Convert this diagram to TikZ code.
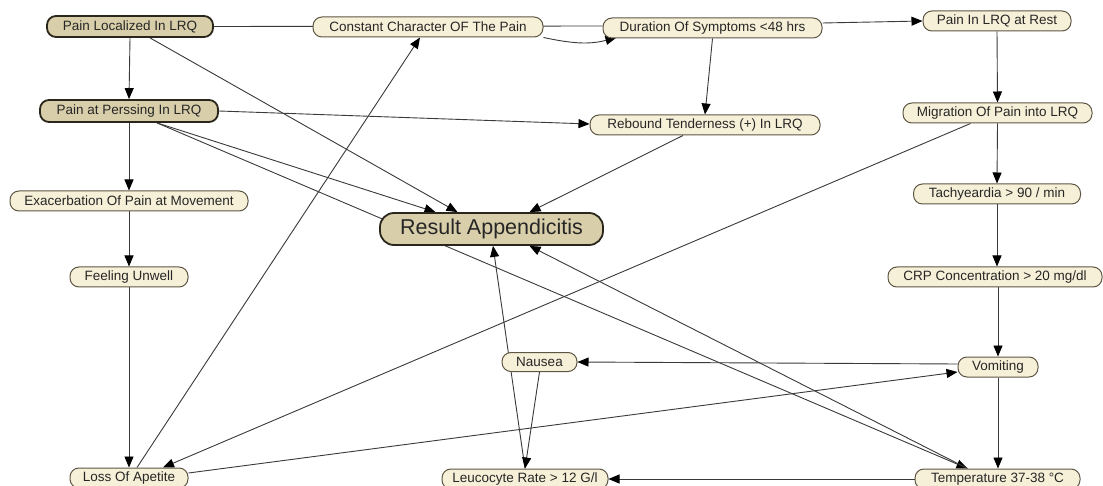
\documentclass[tikz,border=0pt]{standalone}
\usepackage{fontspec}
\setmainfont{Liberation Sans}
\usetikzlibrary{arrows.meta,calc}
\pgfdeclarelayer{bg}
\pgfsetlayers{bg,main}
\definecolor{creamfill}{HTML}{F7F0D8}
\definecolor{creamline}{HTML}{5E5644}
\definecolor{tanfill}{HTML}{D8CFAA}
\definecolor{tanline}{HTML}{2A261C}
\definecolor{inkgray}{HTML}{262626}
\definecolor{linkgray}{HTML}{3A3A3A}
\tikzset{
  box/.style={draw=creamline, fill=creamfill, line width=1pt, rounded corners=9pt,
    minimum height=20pt, inner sep=0pt, text=inkgray, font=\fontsize{13.5}{14}\selectfont},
  keybox/.style={box, draw=tanline, fill=tanfill, line width=1.8pt, minimum height=21pt},
  bigbox/.style={keybox, rounded corners=14pt, minimum height=32pt, font=\fontsize{21.5}{23}\selectfont, text=black!85},
  link/.style={draw=linkgray, line width=0.9pt, -{Triangle[length=11pt,width=9pt,color=black]}},
  plain/.style={draw=linkgray, line width=0.9pt}
}
\begin{document}
\begin{tikzpicture}[x=1pt,y=-1pt]
\useasboundingbox (0,0) rectangle (1103,486);
% nodes
\node[keybox, minimum width=166pt] (PL) at (130,26.5) {Pain Localized In LRQ};
\node[box, minimum width=230pt] (CC) at (428,27) {Constant Character OF The Pain};
\node[box, minimum width=219pt] (DS) at (712.5,28) {Duration Of Symptoms <48 hrs};
\node[box, minimum width=148pt] (PR) at (997,21) {Pain In LRQ at Rest};
\node[keybox, minimum width=178pt, minimum height=22pt] (PP) at (129,111) {Pain at Perssing In LRQ};
\node[box, minimum width=230pt] (RT) at (705,125) {Rebound Tenderness (+) In LRQ};
\node[box, minimum width=189pt] (MP) at (997.5,113) {Migration Of Pain into LRQ};
\node[box, minimum width=238pt] (EX) at (129,201) {Exacerbation Of Pain at Movement};
\node[bigbox, minimum width=223pt] (RA) at (491.5,229) {Result Appendicitis};
\node[box, minimum width=167pt] (TA) at (997,194) {Tachyeardia > 90 / min};
\node[box, minimum width=118pt] (FU) at (129,277) {Feeling Unwell};
\node[box, minimum width=214pt] (CRP) at (995,277) {CRP Concentration > 20 mg/dl};
\node[box, minimum width=75pt, minimum height=19pt] (NA) at (539.5,362) {Nausea};
\node[box, minimum width=80pt] (VO) at (998,367) {Vomiting};
\node[box, minimum width=118pt] (LA) at (129,478) {Loss Of Apetite};
\node[box, minimum width=166pt] (LR) at (525,479) {Leucocyte Rate > 12 G/l};
\node[box, minimum width=165pt] (TE) at (997.5,479) {Temperature 37-38 °C};
% connectors
\begin{pgfonlayer}{bg}
\fill[white] (0,0) rectangle (1103,486);
\draw[plain] (PL.east) -- ($(DS.west)+(0,-2)$);
\draw[link] (CC.south east) to[out=-12,in=195] ($(DS.south west)+(14,-1)$);
\draw[link] ($(DS.east)+(0,-5)$) -- (PR.west);
\draw[link] (DS.south) -- (RT.north);
\draw[link] (PL.south) -- (PP.north);
\draw[link] (PR.south) -- (MP.north);
\draw[link] (MP.south) -- (TA.north);
\draw[link] (TA.south) -- (TA.south |- CRP.north);
\draw[link] (CRP.south -| VO.north) -- (VO.north);
\draw[link] (VO.south) -- (VO.south |- TE.north);
\draw[link] (PP.south) -- (EX.north);
\draw[link] (EX.south) -- (FU.north);
\draw[link] (FU.south) -- (LA.north);
\draw[link] (PP.east) -- ($(RT.west)+(0,-1)$);
\draw[link] ($(PL.south)+(20,0)$) -- ($(RA.north)+(-34,0)$);
\draw[link] ($(PP.south)+(28,0)$) -- ($(RA.north)+(-56,0)$);
\draw[link] ($(PP.south)+(28,0)$) -- ($(TE.north)+(-30,0)$);
\draw[link] (LR.north) -- ($(RA.south)+(1.5,0)$);
\draw[link] (NA.south) -- (LR.north);
\draw[link] (TE.west) -- (LR.east);
\draw[link] ($(TE.north)+(-30,0)$) -- ($(RA.south)+(38,0)$);
\draw[link] ($(VO.west)+(0,-3)$) -- (NA.east);
\draw[link] ($(LA.east)+(0,-5)$) -- ($(VO.west)+(0,5)$);
\draw[link] ($(MP.south)+(-27,0)$) -- ($(LA.north)+(34,0)$);
\draw[link] ($(LA.north)+(8,0)$) -- ($(CC.south)+(-8,0)$);
\draw[link] ($(RT.south)+(-22,0)$) -- ($(RA.north)+(38,0)$);
\end{pgfonlayer}
\end{tikzpicture}
\end{document}
